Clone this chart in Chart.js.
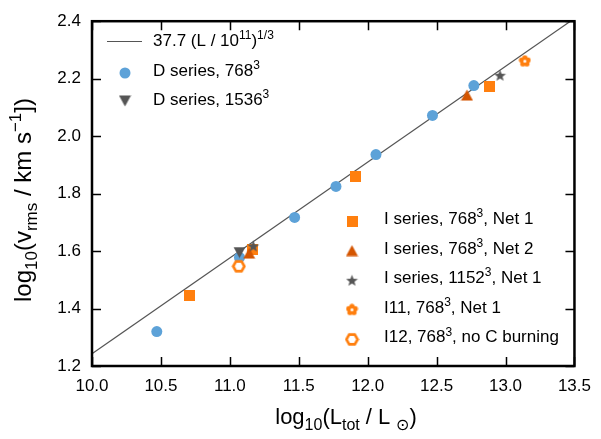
<!DOCTYPE html>
<html>
<head>
<meta charset="utf-8">
<script src="https://cdn.jsdelivr.net/npm/chart.js@4"></script>
<style>
  body { margin: 0; background: #fff; }
  #wrap { width: 601px; height: 439px; }
</style>
</head>
<body>
<div id="wrap"><canvas id="c" width="601" height="439"></canvas></div>
<script>
// data: log10(L_tot / Lsun) vs log10(v_rms)
const dSeries768X = [10.47, 11.07, 11.47, 11.77, 12.06, 12.47, 12.77];
const dSeries768Y = [1.320, 1.578, 1.717, 1.825, 1.936, 2.072, 2.176];
const dSeries1536X = [11.07];
const dSeries1536Y = [1.595];
const iNet1X = [10.71, 11.165, 11.91, 12.885];
const iNet1Y = [1.444, 1.605, 1.861, 2.171];
const iNet2X = [11.14, 12.72];
const iNet2Y = [1.593, 2.143];
const i1152X = [11.17, 12.96];
const i1152Y = [1.618, 2.212];
const i11X = [13.14];
const i11Y = [2.261];
const i12X = [11.065];
const i12Y = [1.547];

// fit: 37.7 (L / 1e11)^(1/3)
const fitCoef = 37.7;
const fitX = [10.0, 13.5];

const xTicks = { min: 10.0, max: 13.5, step: 0.5 };
const yTicks = { min: 1.2, max: 2.4, step: 0.2 };

const FONT = '"Liberation Sans", Arial, Helvetica, sans-serif';
const BLUE = '#5da2d8';
const ORANGE = '#ff7f0e';
const DARKORANGE = '#d45500';
const GREY = '#555555';

const pts = (xs, ys) => xs.map((x, i) => ({ x: x, y: ys[i] }));

function marker(w, h, draw) {
  const c = document.createElement('canvas');
  c.width = w; c.height = h;
  draw(c.getContext('2d'), w / 2, h / 2);
  return c;
}

const mSquare = marker(11, 11, (g) => { g.fillStyle = ORANGE; g.fillRect(0, 0, 11, 11); });
const mTriUp = marker(13, 12, (g) => {
  g.fillStyle = DARKORANGE; g.beginPath();
  g.moveTo(6.5, 0.5); g.lineTo(12.5, 11.5); g.lineTo(0.5, 11.5); g.closePath(); g.fill();
});
const mTriDown = marker(13, 12, (g) => {
  g.fillStyle = GREY; g.beginPath();
  g.moveTo(0.5, 0.5); g.lineTo(12.5, 0.5); g.lineTo(6.5, 11.5); g.closePath(); g.fill();
});
const mStar = marker(13, 13, (g, cx, cy) => {
  g.fillStyle = GREY; g.beginPath();
  for (let i = 0; i < 10; i++) {
    const r = i % 2 ? 2.6 : 6.2;
    const a = -Math.PI / 2 + i * Math.PI / 5;
    g.lineTo(cx + r * Math.cos(a), cy + 0.6 + r * Math.sin(a));
  }
  g.closePath(); g.fill();
});
const mFlower = marker(13, 13, (g, cx, cy) => {
  g.fillStyle = ORANGE;
  for (let i = 0; i < 5; i++) {
    const a = -Math.PI / 2 + i * 2 * Math.PI / 5;
    g.beginPath(); g.arc(cx + 3.4 * Math.cos(a), cy + 3.4 * Math.sin(a), 2.6, 0, 2 * Math.PI); g.fill();
  }
  g.beginPath(); g.arc(cx, cy, 3, 0, 2 * Math.PI); g.fill();
  g.fillStyle = '#fff';
  g.beginPath(); g.arc(cx, cy, 1.5, 0, 2 * Math.PI); g.fill();
});
const mHex = marker(15, 15, (g, cx, cy) => {
  g.strokeStyle = ORANGE; g.lineWidth = 2.6; g.fillStyle = '#fff'; g.beginPath();
  for (let i = 0; i < 6; i++) {
    const a = i * Math.PI / 3;
    g.lineTo(cx + 5.6 * Math.cos(a), cy + 5.6 * Math.sin(a));
  }
  g.closePath(); g.fill(); g.stroke();
});

// draws text with sub/superscript pieces; parts = [[text, 'n'|'sub'|'sup'], ...]
function rich(ctx, parts, x, y, size, align, ratio) {
  const small = Math.round(size * (ratio || 0.7));
  const fontOf = (k) => (k === 'n' ? size : small) + 'px ' + FONT;
  let total = 0;
  parts.forEach(([t, k]) => { ctx.font = fontOf(k); total += ctx.measureText(t).width; });
  let px = align === 'center' ? x - total / 2 : x;
  ctx.textBaseline = 'alphabetic';
  ctx.textAlign = 'left';
  parts.forEach(([t, k]) => {
    ctx.font = fontOf(k);
    let dy = 0;
    if (k === 'sub') dy = size * 0.25;
    if (k === 'sup') dy = -size * 0.4;
    ctx.fillText(t, px, y + dy);
    px += ctx.measureText(t).width;
  });
}

const decor = {
  id: 'decor',
  afterDraw(chart) {
    const { ctx, chartArea: a, scales: { x, y } } = chart;
    ctx.save();
    ctx.strokeStyle = '#000';
    ctx.lineWidth = 1.5;
    const tl = 9;
    ctx.beginPath();
    x.ticks.forEach((t) => {
      const px = Math.round(x.getPixelForValue(t.value)) + 0.5;
      ctx.moveTo(px, a.bottom); ctx.lineTo(px, a.bottom - tl);
      ctx.moveTo(px, a.top); ctx.lineTo(px, a.top + tl);
    });
    y.ticks.forEach((t) => {
      const py = Math.round(y.getPixelForValue(t.value)) + 0.5;
      ctx.moveTo(a.left, py); ctx.lineTo(a.left + tl, py);
      ctx.moveTo(a.right, py); ctx.lineTo(a.right - tl, py);
    });
    ctx.stroke();
    ctx.lineWidth = 2.5;
    ctx.strokeRect(a.left, a.top, a.right - a.left, a.bottom - a.top);

    ctx.fillStyle = '#000';
    // upper-left legend
    ctx.strokeStyle = GREY; ctx.lineWidth = 1.2;
    ctx.beginPath(); ctx.moveTo(107, 41.5); ctx.lineTo(142, 41.5); ctx.stroke();
    rich(ctx, [['37.7 (L / 10', 'n'], ['11', 'sup'], [')', 'n'], ['1/3', 'sup']], 153, 46, 17, 'left', 0.72);
    ctx.fillStyle = BLUE;
    ctx.beginPath(); ctx.arc(125, 73, 5.5, 0, 2 * Math.PI); ctx.fill();
    ctx.fillStyle = '#000';
    rich(ctx, [['D series, 768', 'n'], ['3', 'sup']], 153, 76, 17, 'left', 0.72);
    ctx.drawImage(mTriDown, 125 - 6.5, 101 - 6);
    rich(ctx, [['D series, 1536', 'n'], ['3', 'sup']], 153, 105, 17, 'left', 0.72);

    // lower-right legend
    const rows = [
      [mSquare, [['I series, 768', 'n'], ['3', 'sup'], [', Net 1', 'n']]],
      [mTriUp, [['I series, 768', 'n'], ['3', 'sup'], [', Net 2', 'n']]],
      [mStar, [['I series, 1152', 'n'], ['3', 'sup'], [', Net 1', 'n']]],
      [mFlower, [['I11, 768', 'n'], ['3', 'sup'], [', Net 1', 'n']]],
      [mHex, [['I12, 768', 'n'], ['3', 'sup'], [', no C burning', 'n']]]
    ];
    rows.forEach(([img, parts], i) => {
      const cy = 221 + i * 29.6;
      ctx.drawImage(img, 352 - img.width / 2, cy - img.height / 2);
      rich(ctx, parts, 384, cy + 3, 17, 'left', 0.72);
    });

    // axis titles
    rich(ctx, [['log', 'n'], ['10', 'sub'], ['(L', 'n'], ['tot', 'sub'], [' / L ', 'n'], ['\u2299', 'sub'], [')', 'n']],
      346, 424, 22, 'center', 0.72);
    ctx.save();
    ctx.translate(31, 200);
    ctx.rotate(-Math.PI / 2);
    rich(ctx, [['log', 'n'], ['10', 'sub'], ['(v', 'n'], ['rms', 'sub'], [' / km s', 'n'], ['\u22121', 'sup'], ['])', 'n']],
      0, 0, 24, 'center', 0.72);
    ctx.restore();
    ctx.restore();
  }
};

new Chart(document.getElementById('c'), {
  type: 'scatter',
  data: {
    datasets: [
      { label: 'I12', data: pts(i12X, i12Y), pointStyle: mHex, order: 1 },
      { label: 'I11', data: pts(i11X, i11Y), pointStyle: mFlower, order: 1 },
      { label: 'I 1152 Net1', data: pts(i1152X, i1152Y), pointStyle: mStar, order: 0 },
      { label: 'I 768 Net2', data: pts(iNet2X, iNet2Y), pointStyle: mTriUp, order: 2 },
      { label: 'I 768 Net1', data: pts(iNet1X, iNet1Y), pointStyle: mSquare, order: 3 },
      { label: 'D 1536', data: pts(dSeries1536X, dSeries1536Y), pointStyle: mTriDown, order: 4 },
      { label: 'D 768', data: pts(dSeries768X, dSeries768Y), pointStyle: 'circle', pointRadius: 5.5,
        backgroundColor: BLUE, borderWidth: 0, order: 5 },
      { label: 'fit', data: fitX.map(x => ({ x: x, y: Math.log10(fitCoef) + (x - 11) / 3 })),
        showLine: true, pointRadius: 0, borderColor: GREY, borderWidth: 1.2, order: 6 }
    ]
  },
  options: {
    responsive: false,
    animation: false,
    layout: { padding: { top: 14, right: 22, left: 0, bottom: 0 } },
    plugins: { legend: { display: false }, tooltip: { enabled: false } },
    scales: {
      x: {
        type: 'linear', min: xTicks.min, max: xTicks.max,
        grid: { display: false, drawTicks: false },
        border: { display: false },
        ticks: { stepSize: xTicks.step, padding: 10, color: '#000', font: { family: FONT, size: 17 },
          callback: v => v.toFixed(1) },
        afterFit: s => { s.height = 73; }
      },
      y: {
        type: 'linear', min: yTicks.min, max: yTicks.max,
        grid: { display: false, drawTicks: false },
        border: { display: false },
        ticks: { stepSize: yTicks.step, padding: 11, color: '#000', font: { family: FONT, size: 17 },
          callback: v => v.toFixed(1) },
        afterFit: s => { s.width = 92; }
      }
    }
  },
  plugins: [decor]
});
</script>
</body>
</html>
